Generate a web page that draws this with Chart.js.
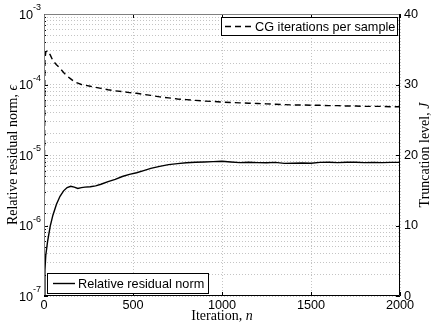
<!DOCTYPE html>
<html>
<head>
<meta charset="utf-8">
<script src="https://cdn.jsdelivr.net/npm/chart.js@4"></script>
<style>
  html, body { margin: 0; padding: 0; background: #fff; }
</style>
</head>
<body>
<canvas id="chart" width="437" height="327"></canvas>
<script>
const iterations = [
    0, 5, 10, 20, 35, 50, 70, 90, 110, 130,
    150, 170, 190, 210, 230, 260, 290, 320,
    360, 400, 440, 480, 520, 560, 600,
    650, 700, 750, 800, 850, 900, 950, 1000, 1050, 1100, 1150, 1200, 1250, 1300, 1350,
    1400, 1450, 1500, 1550, 1600, 1650, 1700, 1750, 1800, 1850, 1900, 1950, 2000
];

// relative residual norm (left, log axis)
const residualNorm = [
    1.0e-7, 2.3e-7, 3.8e-7, 5.9e-7, 9.8e-7, 1.4e-6, 2.0e-6, 2.6e-6, 3.1e-6, 3.45e-6,
    3.6e-6, 3.5e-6, 3.35e-6, 3.45e-6, 3.5e-6, 3.55e-6, 3.65e-6, 3.85e-6,
    4.2e-6, 4.5e-6, 4.95e-6, 5.3e-6, 5.6e-6, 6.0e-6, 6.45e-6,
    6.9e-6, 7.3e-6, 7.55e-6, 7.75e-6, 7.9e-6, 7.95e-6, 8.05e-6, 8.15e-6, 7.95e-6, 7.8e-6, 7.9e-6, 7.8e-6, 7.75e-6, 7.85e-6, 7.6e-6,
    7.65e-6, 7.7e-6, 7.65e-6, 7.85e-6, 7.9e-6, 7.8e-6, 7.9e-6, 7.9e-6, 7.8e-6, 7.85e-6, 7.8e-6, 7.85e-6, 7.85e-6
];

// CG iterations per sample (right axis)
const cgIterations = [
    0, 33.5, 34.6, 34.8, 34.2, 33.4, 32.8, 32.3, 31.7, 31.2,
    30.8, 30.4, 30.2, 30.0, 29.9, 29.75, 29.6, 29.45,
    29.25, 29.1, 29.0, 28.85, 28.75, 28.6, 28.45,
    28.25, 28.1, 27.95, 27.85, 27.75, 27.65, 27.6, 27.5, 27.45, 27.4, 27.35, 27.3, 27.25, 27.2, 27.15,
    27.1, 27.1, 27.05, 27.05, 27.0, 27.0, 26.95, 26.95, 26.9, 26.9, 26.9, 26.85, 26.85
];

const xTicks = [0, 500, 1000, 1500, 2000];
const leftExponents = [-7, -6, -5, -4, -3];
const rightTicks = [0, 10, 20, 30, 40];

const sansFont = "Liberation Sans, Arial, sans-serif";
const serifFont = "Liberation Serif, Times New Roman, serif";

function drawMixed(ctx, parts, cx, cy, angle, size) {
    ctx.save();
    ctx.translate(cx, cy);
    ctx.rotate(angle);
    ctx.textBaseline = "middle";
    ctx.textAlign = "left";
    let total = 0;
    parts.forEach(p => {
        ctx.font = (p[1] ? "italic " : "") + size + "px " + serifFont;
        total += ctx.measureText(p[0]).width;
    });
    let x = -total / 2;
    parts.forEach(p => {
        ctx.font = (p[1] ? "italic " : "") + size + "px " + serifFont;
        ctx.fillText(p[0], x, 0);
        x += ctx.measureText(p[0]).width;
    });
    ctx.restore();
}

const matlabFrame = {
    id: "matlabFrame",
    afterDraw(chart) {
        const { ctx, chartArea: a, scales } = chart;
        const xs = scales.x, ys = scales.y, ys2 = scales.y2;
        ctx.save();

        // inward tick marks
        ctx.strokeStyle = "#000";
        ctx.lineWidth = 1;
        ctx.beginPath();
        xTicks.forEach(v => {
            const px = Math.round(xs.getPixelForValue(v)) + 0.5;
            ctx.moveTo(px, a.bottom); ctx.lineTo(px, a.bottom - 4);
            ctx.moveTo(px, a.top); ctx.lineTo(px, a.top + 4);
        });
        ys.ticks.forEach(t => {
            const l = Math.log10(t.value);
            const major = Math.abs(l - Math.round(l)) < 1e-6;
            const py = Math.round(ys.getPixelForValue(t.value)) + 0.5;
            ctx.moveTo(a.left, py); ctx.lineTo(a.left + (major ? 4 : 2), py);
        });
        rightTicks.forEach(v => {
            const py = Math.round(ys2.getPixelForValue(v)) + 0.5;
            ctx.moveTo(a.right, py); ctx.lineTo(a.right - 4, py);
        });
        ctx.stroke();

        // axes box
        ctx.beginPath();
        ctx.strokeStyle = "#808080";
        ctx.moveTo(a.left + 0.5, a.bottom); ctx.lineTo(a.left + 0.5, a.top + 0.5); ctx.lineTo(a.right, a.top + 0.5);
        ctx.stroke();
        ctx.beginPath();
        ctx.strokeStyle = "#000";
        ctx.moveTo(a.left, a.bottom - 0.5); ctx.lineTo(a.right - 0.5, a.bottom - 0.5); ctx.lineTo(a.right - 0.5, a.top);
        ctx.stroke();

        // left tick labels 10^k
        ctx.fillStyle = "#000";
        ctx.textBaseline = "middle";
        leftExponents.forEach(e => {
            const py = ys.getPixelForValue(Math.pow(10, e));
            const sup = String(e);
            ctx.font = "9px " + sansFont;
            const sw = ctx.measureText(sup).width;
            const right = a.left - 3;
            ctx.textAlign = "left";
            ctx.fillText(sup, right - sw, py - 6);
            ctx.font = "12.7px " + sansFont;
            ctx.textAlign = "right";
            ctx.fillText("10", right - sw, py + 1);
        });

        // axis titles
        drawMixed(ctx, [["Relative residual norm, ", false], ["\u03F5", true]], 13, (a.top + a.bottom) / 2, -Math.PI / 2, 14);
        drawMixed(ctx, [["Truncation level, ", false], ["J", true]], 425, (a.top + a.bottom) / 2, -Math.PI / 2, 14);
        drawMixed(ctx, [["Iteration, ", false], ["n", true]], (a.left + a.right) / 2, 316, 0, 14);

        // legend boxes
        const drawLegend = (bx, by, bw, bh, dash, label, x0, x1) => {
            ctx.fillStyle = "#fff";
            ctx.fillRect(bx, by, bw, bh);
            ctx.strokeStyle = "#000";
            ctx.lineWidth = 1;
            ctx.setLineDash([]);
            ctx.strokeRect(bx + 0.5, by + 0.5, bw, bh);
            const cy = by + bh / 2 + 0.5;
            ctx.beginPath();
            ctx.lineWidth = 1.4;
            ctx.setLineDash(dash);
            ctx.moveTo(x0, cy); ctx.lineTo(x1, cy);
            ctx.stroke();
            ctx.setLineDash([]);
            ctx.fillStyle = "#000";
            ctx.font = "12.7px " + sansFont;
            ctx.textAlign = "left";
            ctx.textBaseline = "middle";
            ctx.fillText(label, x1 + 3, cy + 0.5);
        };
        drawLegend(221, 17, 176, 18, [6, 4], chart.data.datasets[1].label, 225, 252);
        drawLegend(47, 273, 161, 20, [], chart.data.datasets[0].label, 53, 75);

        ctx.restore();
    }
};

new Chart(document.getElementById("chart"), {
    type: "line",
    data: {
        datasets: [
            {
                label: "Relative residual norm",
                data: iterations.map((n, i) => ({ x: n, y: residualNorm[i] })),
                yAxisID: "y",
                borderColor: "#000",
                borderWidth: 1.4,
                pointRadius: 0,
                tension: 0
            },
            {
                label: "CG iterations per sample",
                data: iterations.map((n, i) => ({ x: n, y: cgIterations[i] })),
                yAxisID: "y2",
                borderColor: "#000",
                borderWidth: 1.4,
                borderDash: [6, 4],
                pointRadius: 0,
                tension: 0
            }
        ]
    },
    options: {
        responsive: false,
        animation: false,
        devicePixelRatio: 1,
        layout: { padding: { top: 14, left: 0, right: 0, bottom: 0 } },
        plugins: {
            legend: { display: false },
            tooltip: { enabled: false }
        },
        scales: {
            x: {
                type: "linear",
                min: 0,
                max: 2000,
                afterFit(scale) { scale.height = 31; },
                afterBuildTicks(scale) { scale.ticks = xTicks.map(v => ({ value: v })); },
                ticks: {
                    color: "#000",
                    font: { family: sansFont, size: 12.7 },
                    padding: 2,
                    maxRotation: 0,
                    autoSkip: false,
                    callback: v => String(v)
                },
                grid: { color: "#c4c4c4", lineWidth: 1, drawTicks: false },
                border: { display: false, dash: [1, 2] }
            },
            y: {
                type: "logarithmic",
                position: "left",
                min: 1e-7,
                max: 1e-3,
                afterFit(scale) { scale.width = 44; },
                ticks: { display: false },
                grid: { color: "#c4c4c4", lineWidth: 1, drawTicks: false },
                border: { display: false, dash: [1, 2] }
            },
            y2: {
                type: "linear",
                position: "right",
                min: 0,
                max: 40,
                afterFit(scale) { scale.width = 37; },
                afterBuildTicks(scale) { scale.ticks = rightTicks.map(v => ({ value: v })); },
                ticks: {
                    color: "#000",
                    font: { family: sansFont, size: 12.7 },
                    padding: 4,
                    callback: v => String(v)
                },
                grid: { display: false, drawTicks: false },
                border: { display: false }
            }
        }
    },
    plugins: [matlabFrame]
});
</script>
</body>
</html>
